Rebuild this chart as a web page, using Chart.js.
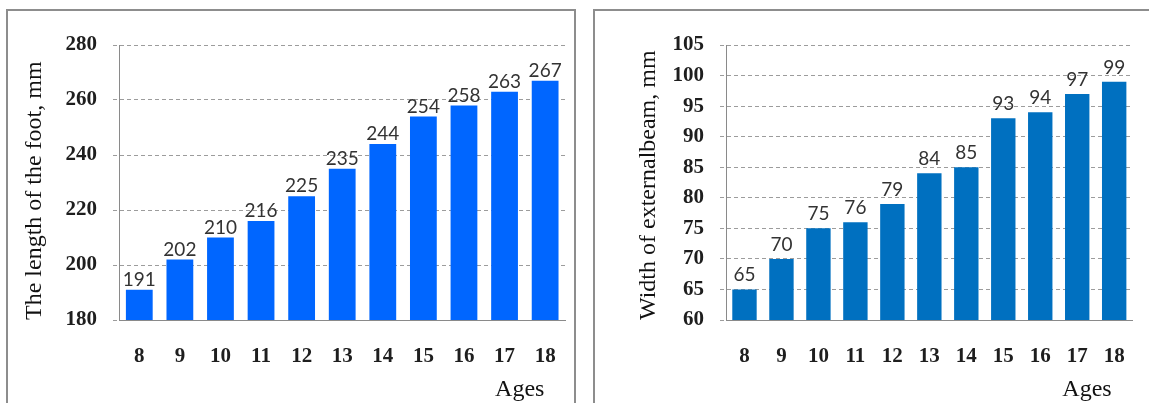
<!DOCTYPE html>
<html>
<head>
<meta charset="utf-8">
<title>Foot length and external beam width by age</title>
<script src="https://cdn.jsdelivr.net/npm/chart.js@4.4.1/dist/chart.umd.min.js"></script>
<style>
  html, body { margin: 0; padding: 0; background: #fff; }
  body { width: 1149px; height: 403px; position: relative; overflow: hidden; }
  .panel { position: absolute; box-sizing: border-box; border: 2px solid #8d8d8d; border-bottom: none; }
  #panelFoot { left: 6px; top: 9px; width: 570px; height: 400px; }
  #panelBeam { left: 593px; top: 9px; width: 600px; height: 400px; border-right: none; }
  .wrap { position: absolute; top: 0; height: 403px; }
  #wrapFoot { left: 0; width: 580px; }
  #wrapBeam { left: 580px; width: 569px; }
</style>
</head>
<body>
<div class="panel" id="panelFoot"></div>
<div class="panel" id="panelBeam"></div>
<div class="wrap" id="wrapFoot"><canvas id="footChart"></canvas></div>
<div class="wrap" id="wrapBeam"><canvas id="beamChart"></canvas></div>

<script>
// Ages on the horizontal axis (both charts)
const ages = ['8', '9', '10', '11', '12', '13', '14', '15', '16', '17', '18'];

// Length of the foot, mm
const footLength = [191, 202, 210, 216, 225, 235, 244, 254, 258, 263, 267];
const footTicks = [180, 200, 220, 240, 260, 280];

// Width of external beam, mm
const beamWidth = [65, 70, 75, 76, 79, 84, 85, 93, 94, 97, 99];
const beamTicks = [60, 65, 70, 75, 80, 85, 90, 95, 100, 105];

const SERIF = '"Liberation Serif", "Times New Roman", serif';
const GRID_GRAY = '#9c9c9c';
const AXIS_GRAY = '#8a8a8a';
const TICK_TEXT = '#1e1e1e';

// Writes each bar's value just above the bar
const valueLabels = {
  id: 'valueLabels',
  afterDatasetsDraw(chart, args, opts) {
    const ctx = chart.ctx;
    const meta = chart.getDatasetMeta(0);
    const values = chart.data.datasets[0].data;
    ctx.save();
    ctx.font = opts.font;
    ctx.fillStyle = opts.color;
    ctx.textAlign = 'center';
    ctx.textBaseline = 'alphabetic';
    meta.data.forEach((bar, i) => {
      ctx.fillText(String(values[i]), bar.x, bar.y - opts.gap);
    });
    ctx.restore();
  }
};

// "Ages" caption under the right end of the horizontal axis
const axisCaption = {
  id: 'axisCaption',
  afterDraw(chart, args, opts) {
    const ctx = chart.ctx;
    ctx.save();
    ctx.font = opts.font;
    ctx.fillStyle = opts.color;
    ctx.textAlign = 'right';
    ctx.textBaseline = 'middle';
    ctx.fillText(opts.text, chart.chartArea.right - opts.inset, opts.y);
    ctx.restore();
  }
};

function makeBarChart(canvasId, values, ticks, cfg) {
  const yMin = ticks[0];
  const yMax = ticks[ticks.length - 1];
  return new Chart(document.getElementById(canvasId), {
    type: 'bar',
    data: {
      labels: ages,
      datasets: [{
        data: values,
        backgroundColor: cfg.barColor,
        borderWidth: 0,
        categoryPercentage: 1.0,
        barPercentage: 0.66
      }]
    },
    options: {
      responsive: true,
      maintainAspectRatio: false,
      animation: false,
      layout: { padding: { left: 0, right: cfg.padRight, top: 45, bottom: 23 } },
      plugins: {
        legend: { display: false },
        tooltip: { enabled: false },
        valueLabels: { font: '19px Lato, "Open Sans", sans-serif', color: '#333', gap: cfg.labelGap },
        axisCaption: { text: 'Ages', font: '24px ' + SERIF, color: '#111', inset: 21, y: 390 }
      },
      scales: {
        x: {
          grid: { display: false, drawTicks: false },
          border: { display: true, color: AXIS_GRAY, width: 1 },
          ticks: {
            color: TICK_TEXT,
            padding: 24,
            font: { family: SERIF, size: 21, weight: 'bold' }
          },
          afterFit(scale) { scale.height = 60; }
        },
        y: {
          min: yMin,
          max: yMax,
          afterBuildTicks(scale) { scale.ticks = ticks.map(v => ({ value: v })); },
          grid: {
            color: c => (c.tick && c.tick.value === yMin) ? 'rgba(0,0,0,0)' : GRID_GRAY,
            lineWidth: 1,
            tickLength: 6,
            tickColor: GRID_GRAY,
            tickBorderDash: [4, 3]
          },
          border: { display: true, color: AXIS_GRAY, width: 1, dash: [4, 3] },
          ticks: {
            color: TICK_TEXT,
            padding: 16,
            font: { family: SERIF, size: 21, weight: 'bold' }
          },
          title: {
            display: true,
            text: cfg.yTitle,
            color: '#111',
            align: 'start',
            font: { family: SERIF, size: 24, weight: 'normal' },
            padding: { top: cfg.titlePad, bottom: 0 }
          },
          afterFit(scale) { scale.width = cfg.yWidth; }
        }
      }
    },
    plugins: [valueLabels, axisCaption]
  });
}

makeBarChart('footChart', footLength, footTicks, {
  barColor: '#0066ff',
  yTitle: 'The length of the foot, mm',
  yWidth: 119,
  padRight: 8,
  titlePad: 20,
  labelGap: 4
});

makeBarChart('beamChart', beamWidth, beamTicks, {
  barColor: '#0070c0',
  yTitle: 'Width of externalbeam, mm',
  yWidth: 146,
  padRight: 7,
  titlePad: 54,
  labelGap: 8
});
</script>
</body>
</html>
